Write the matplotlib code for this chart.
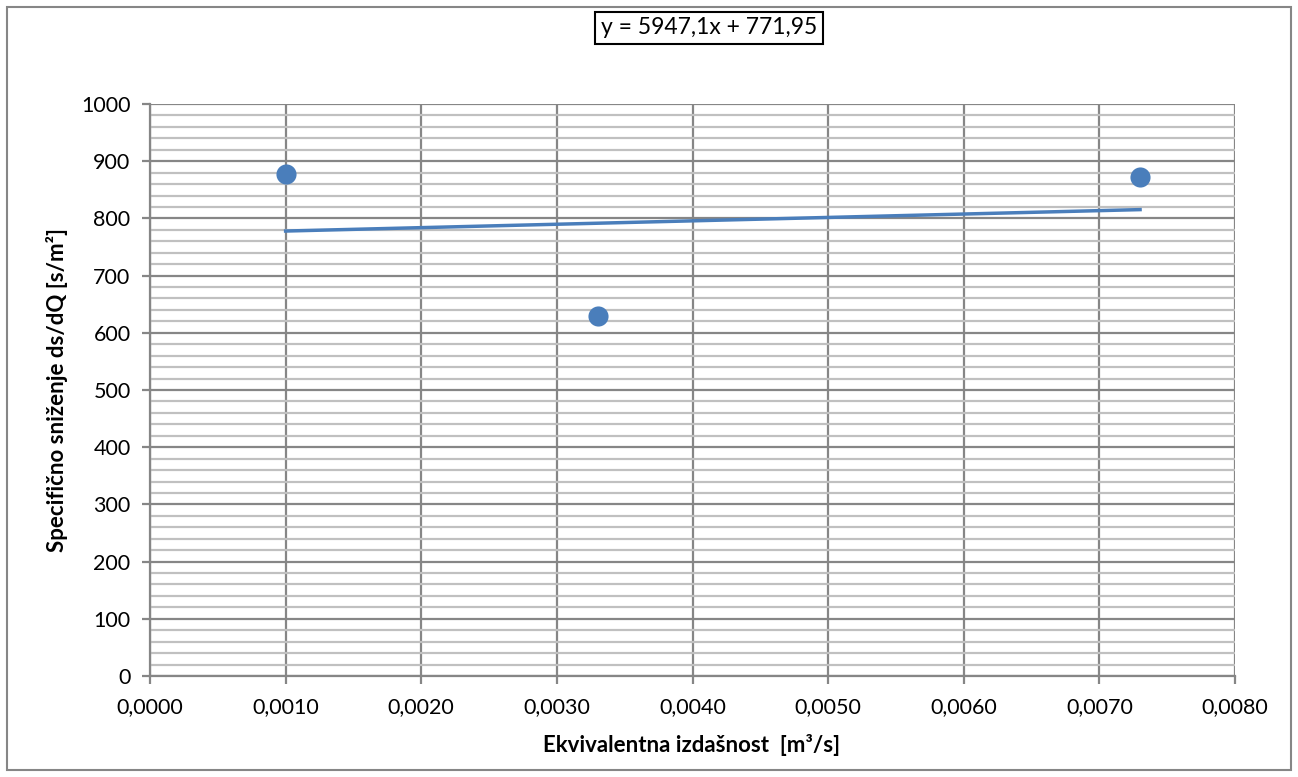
import matplotlib
matplotlib.use("Agg")
import matplotlib.pyplot as plt
from matplotlib.ticker import MultipleLocator, FuncFormatter
from matplotlib.patches import Rectangle
import numpy as np

# Data
x_vals = [0.0010, 0.0033, 0.0073]
y_vals = [878, 630, 872]
slope = 5947.1
intercept = 771.95
equation = "y = 5947,1x + 771,95"
x_label = "Ekvivalentna izdašnost  [m³/s]"
y_label = "Specifično sniženje ds/dQ [s/m²]"

plt.rcParams['font.family'] = ['Lato', 'DejaVu Sans']

W, H = 1298, 777
fig = plt.figure(figsize=(W/100, H/100), dpi=100)
ax = fig.add_axes([150/W, 1-676/H, (1235-150)/W, (676-104)/H])

major_c = '#868686'
minor_c = '#c0c0c0'

ax.set_xlim(0, 0.008)
ax.set_ylim(0, 1000)
ax.xaxis.set_major_locator(MultipleLocator(0.001))
ax.yaxis.set_major_locator(MultipleLocator(100))
ax.yaxis.set_minor_locator(MultipleLocator(20))
ax.xaxis.set_major_formatter(FuncFormatter(lambda v, p: f"{v:.4f}".replace('.', ',')))
ax.yaxis.set_major_formatter(FuncFormatter(lambda v, p: f"{int(round(v))}"))

ax.grid(which='major', axis='both', color=major_c, linewidth=1.6, zorder=0)
ax.grid(which='minor', axis='y', color=minor_c, linewidth=1.6, zorder=0)
ax.set_axisbelow(True)

for s in ['top', 'right']:
    ax.spines[s].set_visible(False)
for s in ['left', 'bottom']:
    ax.spines[s].set_color(major_c)
    ax.spines[s].set_linewidth(1.6)

ax.tick_params(axis='both', which='major', colors=major_c, length=6, width=1.6,
               labelcolor='black', labelsize=15.5)
ax.tick_params(axis='y', which='minor', length=0)
ax.tick_params(axis='x', pad=9)
ax.tick_params(axis='y', pad=8)

ax.scatter(x_vals, y_vals, s=210, color='#4a7ebb', zorder=3, linewidths=0)
xl = np.array([min(x_vals), max(x_vals)])
ax.plot(xl, slope*xl + intercept, color='#4a7ebb', linewidth=2.5, zorder=2)

fig.text(692/W, 1-745/H, x_label, fontsize=16, fontweight='bold', ha='center', va='center')
fig.text(57/W, 1-390/H, y_label, fontsize=16, fontweight='bold', ha='center', va='center',
         rotation=90)

fig.text(709/W, 1-28/H, equation, fontsize=16.5, ha='center', va='center',
         bbox=dict(boxstyle='square,pad=0.25', facecolor='white', edgecolor='black', linewidth=1.5))

fig.patches.append(Rectangle((7/W, 7/H), 1-14/W, 1-14/H, transform=fig.transFigure,
                             fill=False, edgecolor='#868686', linewidth=1.5))

fig.savefig('out.png', dpi=100)
